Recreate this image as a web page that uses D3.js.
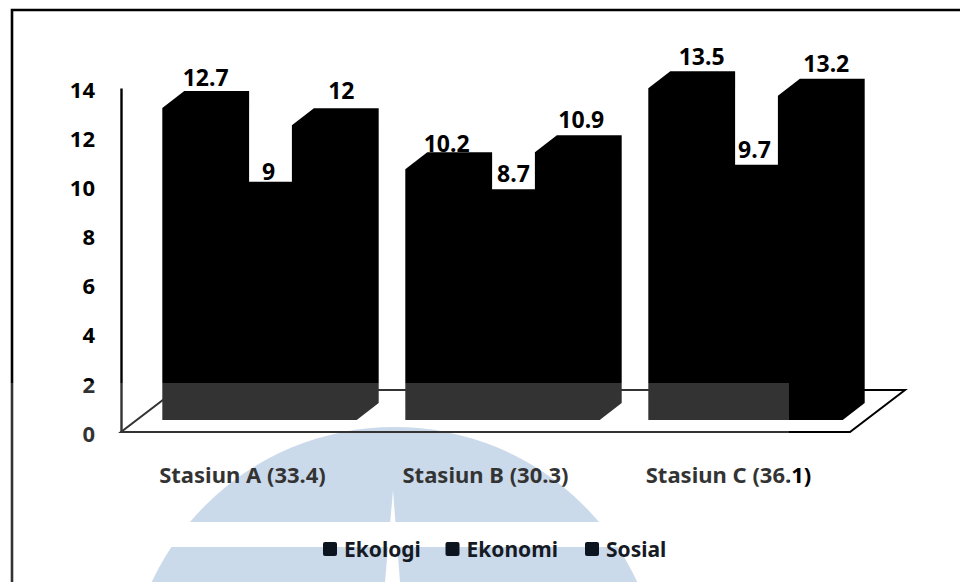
<!DOCTYPE html>
<html>
<head>
<meta charset="utf-8">
<script src="https://cdn.jsdelivr.net/npm/d3@7/dist/d3.min.js"></script>
<style>
html,body{margin:0;background:#fff}
svg{display:block}
text{font-family:"Noto Sans",sans-serif;font-weight:700}
</style>
</head>
<body>
<svg id="chart" width="960" height="582"></svg>
<script>
// Indicator scores per station
const stations = ["Stasiun A (33.4)", "Stasiun B (30.3)", "Stasiun C (36.1)"];
const seriesNames = ["Ekologi", "Ekonomi", "Sosial"];
const ekologi = [12.7, 10.2, 13.5];
const ekonomi = [9, 8.7, 9.7];
const sosial = [12, 10.9, 13.2];
const valueLabels = [["12.7", "10.2", "13.5"], ["9", "8.7", "9.7"], ["12", "10.9", "13.2"]];
const yTicks = [0, 2, 4, 6, 8, 10, 12, 14];
const seriesValues = [ekologi, ekonomi, sosial];

const svg = d3.select("#chart");
const FLOOR_X0 = 121, FLOOR_X1 = 850, FLOOR_Y = 432, AXIS_TOP = 88;

const x = d3.scaleBand().domain(stations).range([FLOOR_X0, FLOOR_X1]).paddingInner(0.2).paddingOuter(0.1);
const inner = d3.scaleBand().domain(seriesNames).range([0, x.bandwidth()]);
const y = d3.scaleLinear().domain([0, 14]).range([FLOOR_Y, AXIS_TOP]);

// 3-D projection: floor depth, and the box depth and inset of the columns
const floorDepth = {dx: 55, dy: -42};
const inset = {dx: 17, dy: -12};
const box = {dx: 22, dy: -17};

// Pale emblem behind the lower part of the page
const defs = svg.append("defs");
const clip = defs.append("clipPath").attr("id", "emblem-clip");
clip.append("rect").attr("x", 0).attr("y", 380).attr("width", 960).attr("height", 142);
clip.append("rect").attr("x", 0).attr("y", 547).attr("width", 960).attr("height", 40);
const emblem = svg.append("g");
emblem.append("circle").attr("cx", 394.5).attr("cy", 694.6).attr("r", 267.6)
  .attr("fill", "#bfd1e5").attr("clip-path", "url(#emblem-clip)");
emblem.append("path").attr("d", "M393 490L385 582H400Z").attr("fill", "#fff");

// Outer frame
svg.append("path").attr("d", "M12 582V10H960").attr("fill", "none").attr("stroke", "#000").attr("stroke-width", 2.6);

// Chart floor and value wall
const floorPts = [
  [FLOOR_X0, FLOOR_Y], [FLOOR_X1, FLOOR_Y],
  [FLOOR_X1 + floorDepth.dx, FLOOR_Y + floorDepth.dy],
  [FLOOR_X0 + floorDepth.dx, FLOOR_Y + floorDepth.dy]
];
svg.append("path").attr("d", d3.line()(floorPts) + "Z")
  .attr("fill", "none").attr("stroke", "#000").attr("stroke-width", 2);

const yAxis = svg.append("g").attr("transform", `translate(${FLOOR_X0},0)`)
  .call(d3.axisLeft(y).tickValues(yTicks).tickSize(0).tickPadding(26).tickFormat(d3.format("d")));
yAxis.select(".domain").attr("stroke", "#000").attr("stroke-width", 2.4);
yAxis.selectAll("text").attr("fill", "#000").style("font-size", "22px").attr("dy", "0.42em")
  .style("font-family", '"Noto Sans",sans-serif');

// Columns, painted back to front within each group
const base = FLOOR_Y + inset.dy;
const barTop = v => y(v) + inset.dy;
const bars = [];
stations.forEach((s, i) => seriesNames.forEach((n, j) => bars.push({s, n, i, j, v: seriesValues[j][i]})));
const line = d3.line();
svg.append("g").selectAll("path").data(bars.slice().reverse()).join("path")
  .attr("fill", "#000")
  .attr("d", d => {
    const l = x(d.s) + inset.dx + inner(d.n), r = l + inner.bandwidth(), t = barTop(d.v);
    return line([[l, base], [l, t], [l + box.dx, t + box.dy], [r + box.dx, t + box.dy], [r + box.dx, base + box.dy], [r, base]]) + "Z";
  });

// Value labels; each one sits where it was nudged clear of neighbouring columns
const labelNudge = [[[0, 1], [-2, 6], [10, 0]], [[-2, 4], [0, -1], [-2, -1]], [[6, -3], [3, -1], [5, -1]]];
svg.append("g").selectAll("text").data(bars).join("text")
  .attr("text-anchor", "middle")
  .attr("x", d => x(d.s) + inset.dx + inner(d.n) + inner.bandwidth() / 2 + box.dx / 2 + labelNudge[d.j][d.i][0])
  .attr("y", d => barTop(d.v) + box.dy - 6 + labelNudge[d.j][d.i][1])
  .attr("fill", "#000").style("font-size", "23px")
  .text(d => valueLabels[d.j][d.i]);

// Category labels
const xAxis = svg.append("g").attr("transform", `translate(0,${FLOOR_Y})`)
  .call(d3.axisBottom(x).tickSize(0).tickPadding(35));
xAxis.select(".domain").remove();
xAxis.selectAll("text").attr("fill", "#000").style("font-size", "22px").style("font-family", '"Noto Sans",sans-serif');

// Lighter band left by the copy across the lower left of the page
svg.append("rect").attr("x", 0).attr("y", 383).attr("width", 789).attr("height", 199)
  .attr("fill", "#fff").attr("opacity", 0.2);

// Legend
const legendX = [323, 445.5, 585];
const legend = svg.append("g").selectAll("g").data(seriesNames).join("g")
  .attr("transform", (d, i) => `translate(${legendX[i]},542)`);
legend.append("rect").attr("width", 14).attr("height", 14).attr("rx", 2).attr("fill", "#0c1420");
legend.append("text").attr("x", 21).attr("y", 15).attr("fill", "#151a24").style("font-size", "21px").text(d => d);
</script>
</body>
</html>
